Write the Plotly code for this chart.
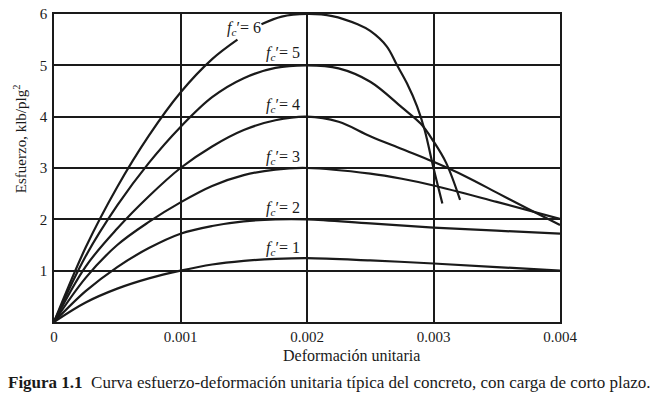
import plotly.graph_objects as go

# ---- data ----
fc_values = [1, 2, 3, 4, 5, 6]

strain_fc1 = [0, 0.00025, 0.0005, 0.00075, 0.001, 0.00125, 0.0015, 0.00175, 0.002, 0.0025, 0.003, 0.0035, 0.004]
stress_fc1 = [0, 0.38, 0.65, 0.85, 1.0, 1.12, 1.19, 1.23, 1.245, 1.2, 1.14, 1.07, 1.0]

strain_fc2 = [0, 0.00025, 0.0005, 0.00075, 0.001, 0.00125, 0.0015, 0.00175, 0.002, 0.0025, 0.003, 0.0035, 0.004]
stress_fc2 = [0, 0.6, 1.07, 1.44, 1.72, 1.87, 1.96, 2.0, 2.0, 1.92, 1.84, 1.78, 1.72]

strain_fc3 = [0, 0.00025, 0.0005, 0.00075, 0.001, 0.00125, 0.0015, 0.00175, 0.002, 0.0025, 0.00275, 0.003, 0.0035, 0.004]
stress_fc3 = [0, 0.86, 1.5, 1.95, 2.33, 2.65, 2.86, 2.97, 3.0, 2.89, 2.79, 2.66, 2.34, 2.01]

strain_fc4 = [0, 0.00025, 0.0005, 0.00075, 0.001, 0.00125, 0.0015, 0.00175, 0.002, 0.00225, 0.0025, 0.00275, 0.003, 0.00325, 0.0035, 0.00375, 0.004]
stress_fc4 = [0, 1.08, 1.82, 2.45, 3.0, 3.42, 3.74, 3.93, 4.0, 3.9, 3.62, 3.37, 3.12, 2.84, 2.52, 2.2, 1.89]

strain_fc5 = [0, 0.00025, 0.0005, 0.00075, 0.001, 0.00125, 0.0015, 0.00175, 0.002, 0.00225, 0.0025, 0.00275, 0.0029, 0.003, 0.0031, 0.00321]
stress_fc5 = [0, 1.28, 2.27, 3.1, 3.8, 4.38, 4.75, 4.95, 5.0, 4.94, 4.68, 4.18, 3.86, 3.52, 3.1, 2.38]

strain_fc6 = [0, 0.00025, 0.0005, 0.00075, 0.001, 0.00125, 0.00145, None,
              0.00164, 0.0018, 0.002, 0.0022, 0.0024, 0.0025, 0.00263, 0.00271, 0.00279, 0.00287, 0.00293, 0.003, 0.00307]
stress_fc6 = [0, 1.45, 2.63, 3.63, 4.47, 5.12, 5.5, None,
              5.8, 5.95, 6.0, 5.96, 5.8, 5.67, 5.37, 5.01, 4.65, 4.2, 3.74, 3.0, 2.31]

x_ticks = [0, 0.001, 0.002, 0.003, 0.004]
x_ticktext = ["0", "0.001", "0.002", "0.003", "0.004"]
y_ticks = [1, 2, 3, 4, 5, 6]
y_ticktext = ["1", "2", "3", "4", "5", "6"]

curves = [
    (strain_fc1, stress_fc1), (strain_fc2, stress_fc2), (strain_fc3, stress_fc3),
    (strain_fc4, stress_fc4), (strain_fc5, stress_fc5), (strain_fc6, stress_fc6),
]
# label anchor (right edge x, centre y) in data units
label_pos = [(0.00196, 1.43), (0.00196, 2.21), (0.00196, 3.2), (0.00196, 4.22), (0.00196, 5.23), (0.00165, 5.72)]

SERIF = "Liberation Serif"
INK = "#1a1a1a"

fig = go.Figure()
for (sx, sy) in curves:
    fig.add_trace(go.Scatter(x=sx, y=sy, mode="lines",
                             line=dict(color=INK, width=2.2, shape="spline", smoothing=1.0),
                             connectgaps=False, showlegend=False, hoverinfo="skip"))

for fc, (lx, ly) in zip(fc_values, label_pos):
    fig.add_annotation(x=lx, y=ly, xref="x", yref="y", xanchor="right", yanchor="middle",
                       text=f"<i>f<sub>c</sub></i>′= {fc}", showarrow=False,
                       font=dict(family=SERIF, size=16, color=INK))

fig.add_annotation(x=-0.067, y=0.594, xref="paper", yref="paper", textangle=-90,
                   xanchor="center", yanchor="middle",
                   text="Esfuerzo, klb/plg<sup>2</sup>", showarrow=False,
                   font=dict(family=SERIF, size=15, color=INK))
fig.add_annotation(x=0.587, y=-0.11, xref="paper", yref="paper",
                   xanchor="center", yanchor="middle",
                   text="Deformación unitaria", showarrow=False,
                   font=dict(family=SERIF, size=16, color=INK))
fig.add_annotation(x=0.545, y=-0.195, xref="paper", yref="paper",
                   xanchor="center", yanchor="middle",
                   text="<b>Figura 1.1</b>  Curva esfuerzo-deformación unitaria típica del concreto, con carga de corto plazo.",
                   showarrow=False, font=dict(family=SERIF, size=17, color=INK))

axis_common = dict(showgrid=True, gridcolor=INK, gridwidth=1.5, zeroline=False,
                   showline=True, linecolor=INK, linewidth=1.5, mirror=True,
                   ticks="", tickfont=dict(family=SERIF, size=15, color=INK),
                   fixedrange=True, automargin=False)
fig.update_xaxes(range=[0, 0.004], tickvals=x_ticks, ticktext=x_ticktext,
                 ticklabelstandoff=0, **axis_common)
fig.update_yaxes(range=[0, 6], tickvals=y_ticks, ticktext=y_ticktext,
                 ticklabelstandoff=2, **axis_common)

fig.update_layout(width=658, height=396, margin=dict(l=54, r=98, t=14, b=74, autoexpand=False),
                  plot_bgcolor="white", paper_bgcolor="white", showlegend=False)

fig.write_html("out.html")
